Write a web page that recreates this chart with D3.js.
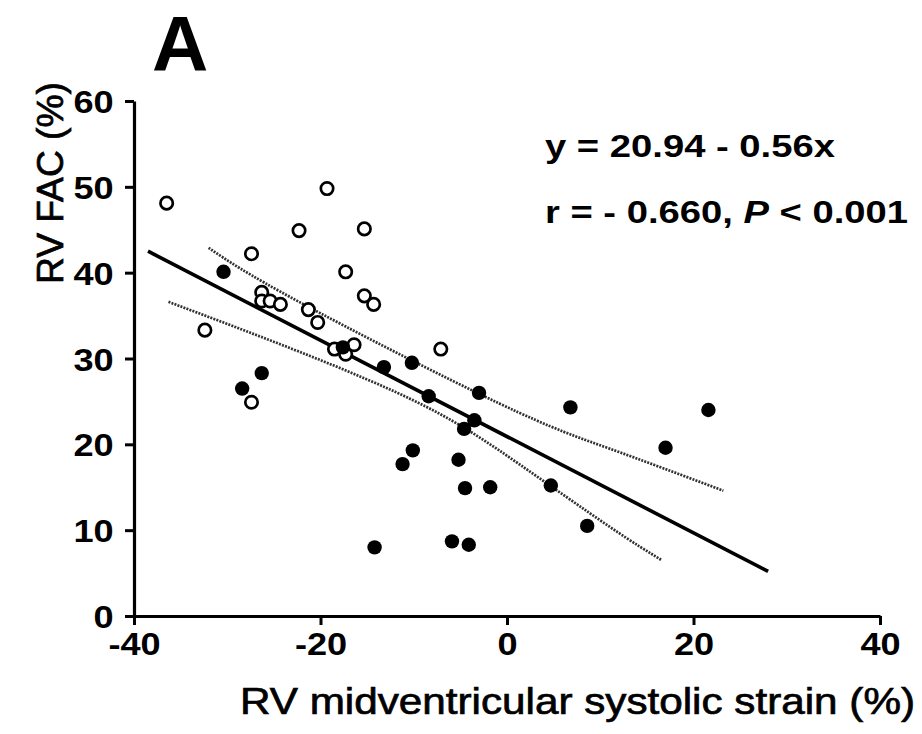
<!DOCTYPE html>
<html>
<head>
<meta charset="utf-8">
<script src="https://cdnjs.cloudflare.com/ajax/libs/d3/7.8.5/d3.min.js"></script>
<style>
  body { margin: 0; background: #fff; }
  svg { display: block; font-family: "Liberation Sans", Arial, sans-serif; }
</style>
</head>
<body>
<div id="chart"></div>
<script>
// open circles
var openStrain = [-36.5, -19.3, -22.3, -15.3, -27.4, -17.3, -26.3, -26.3, -25.4, -24.3,
                  -15.3, -14.3, -21.3, -20.3, -32.4, -18.5, -17.3, -16.4, -7.1, -27.4];
var openFAC    = [48.1, 49.8, 44.9, 45.1, 42.2, 40.1, 37.7, 36.7, 36.7, 36.3,
                  37.3, 36.3, 35.7, 34.2, 33.3, 31.1, 30.5, 31.6, 31.1, 24.9];

// filled circles
var filledStrain = [-30.4, -26.3, -28.4, -17.6, -13.2, -10.2, -8.4, -3.0, -3.5, -4.6, 6.8, 21.6,
                    17.0, -10.1, -11.2, -5.2, -4.5, -1.8, 4.7, 8.6, -14.2, -5.9, -4.1];
var filledFAC    = [40.1, 28.3, 26.5, 31.3, 29.0, 29.5, 25.6, 26.0, 22.8, 21.8, 24.3, 24.0,
                    19.6, 19.3, 17.7, 18.2, 14.9, 15.0, 15.2, 10.5, 8.0, 8.7, 8.3];

// regression line and 95% confidence band
var fitLine   = [[-38.5, 42.5], [28.0, 5.2]];
var upperBand = [[-32.0, 42.9], [-22.3, 36.6], [-0.9, 24.8], [11.0, 19.5], [23.2, 14.6]];
var lowerBand = [[-36.3, 36.6], [-22.3, 30.8], [-8.7, 24.4], [1.3, 17.7], [11.0, 10.4], [16.6, 6.5]];

var xTicks = [-40, -20, 0, 20, 40];
var yTicks = [0, 10, 20, 30, 40, 50, 60];

var svg = d3.select("#chart")
            .append("svg")
            .attr("width", 922)
            .attr("height", 734);

var x = d3.scaleLinear()
          .domain([-40, 40])
          .range([134, 880]);

var y = d3.scaleLinear()
          .domain([0, 60])
          .range([616, 101]);

// confidence band (dotted) and fit line
var band = d3.line()
             .curve(d3.curveNatural)
             .x(function(d) { return x(d[0]) })
             .y(function(d) { return y(d[1]) });

[upperBand, lowerBand].forEach(function(b) {
  svg.append("path")
     .datum(b)
     .attr("d", band)
     .attr("fill", "none")
     .attr("stroke", "#333")
     .attr("stroke-width", 2.7)
     .attr("stroke-dasharray", "2,1.2");
});

svg.append("path")
   .datum(fitLine)
   .attr("d", d3.line()
     .x(function(d) { return x(d[0]) })
     .y(function(d) { return y(d[1]) }))
   .attr("fill", "none")
   .attr("stroke", "#000")
   .attr("stroke-width", 3.6);

// points
svg.append("g")
   .selectAll("circle")
   .data(openStrain)
   .enter()
   .append("circle")
     .attr("cx", function(d) { return x(d) })
     .attr("cy", function(d, i) { return y(openFAC[i]) })
     .attr("r", 6.2)
     .attr("fill", "#fff")
     .attr("stroke", "#000")
     .attr("stroke-width", 2.7);

svg.append("g")
   .selectAll("circle")
   .data(filledStrain)
   .enter()
   .append("circle")
     .attr("cx", function(d) { return x(d) })
     .attr("cy", function(d, i) { return y(filledFAC[i]) })
     .attr("r", 7.2)
     .attr("fill", "#000");

// axes (plain hyphen for negative ticks, like the original)
var fmt = function(d) { return String(d) };

var xAxis = svg.append("g")
   .attr("transform", "translate(0,616)")
   .call(d3.axisBottom(x).tickValues(xTicks).tickFormat(fmt)
           .tickSize(9).tickSizeOuter(0).tickPadding(5));

var yAxis = svg.append("g")
   .attr("transform", "translate(134,0)")
   .call(d3.axisLeft(y).tickValues(yTicks).tickFormat(fmt)
           .tickSize(9).tickSizeOuter(0).tickPadding(9));

[xAxis, yAxis].forEach(function(a) {
  a.select(".domain").attr("stroke-width", 3.2);
  a.selectAll(".tick line").attr("stroke-width", 3);
  a.selectAll(".tick text")
   .style("font-family", "Liberation Sans, Arial, sans-serif")
   .style("font-size", "32px")
   .style("font-weight", "bold")
   .attr("fill", "#000")
   .attr("transform", "scale(1.13,1)");
});

xAxis.selectAll(".tick text").attr("dy", "0.77em");
yAxis.selectAll(".tick text").attr("dy", "0.36em");

// axis titles
svg.append("text")
   .attr("x", 240)
   .attr("y", 714)
   .attr("textLength", 675)
   .attr("lengthAdjust", "spacingAndGlyphs")
   .style("font-size", "37px")
   .style("stroke", "#000")
   .style("stroke-width", 0.7)
   .text("RV midventricular systolic strain (%)");

svg.append("text")
   .attr("transform", "translate(63,284) rotate(-90)")
   .attr("textLength", 202)
   .attr("lengthAdjust", "spacingAndGlyphs")
   .style("font-size", "36px")
   .style("stroke", "#000")
   .style("stroke-width", 0.7)
   .text("RV FAC (%)");

// panel letter
svg.append("text")
   .attr("x", 152)
   .attr("y", 71)
   .style("font-size", "78px")
   .style("font-weight", "bold")
   .text("A");

// equation
svg.append("text")
   .attr("x", 545)
   .attr("y", 157)
   .attr("textLength", 290)
   .attr("lengthAdjust", "spacingAndGlyphs")
   .style("font-size", "31px")
   .style("font-weight", "bold")
   .text("y = 20.94 - 0.56x");

var stat = svg.append("text")
   .attr("x", 545)
   .attr("y", 223)
   .attr("textLength", 363)
   .attr("lengthAdjust", "spacingAndGlyphs")
   .style("font-size", "31px")
   .style("font-weight", "bold");
stat.append("tspan").text("r = - 0.660, ");
stat.append("tspan").style("font-style", "italic").text("P");
stat.append("tspan").text(" < 0.001");
</script>
</body>
</html>
